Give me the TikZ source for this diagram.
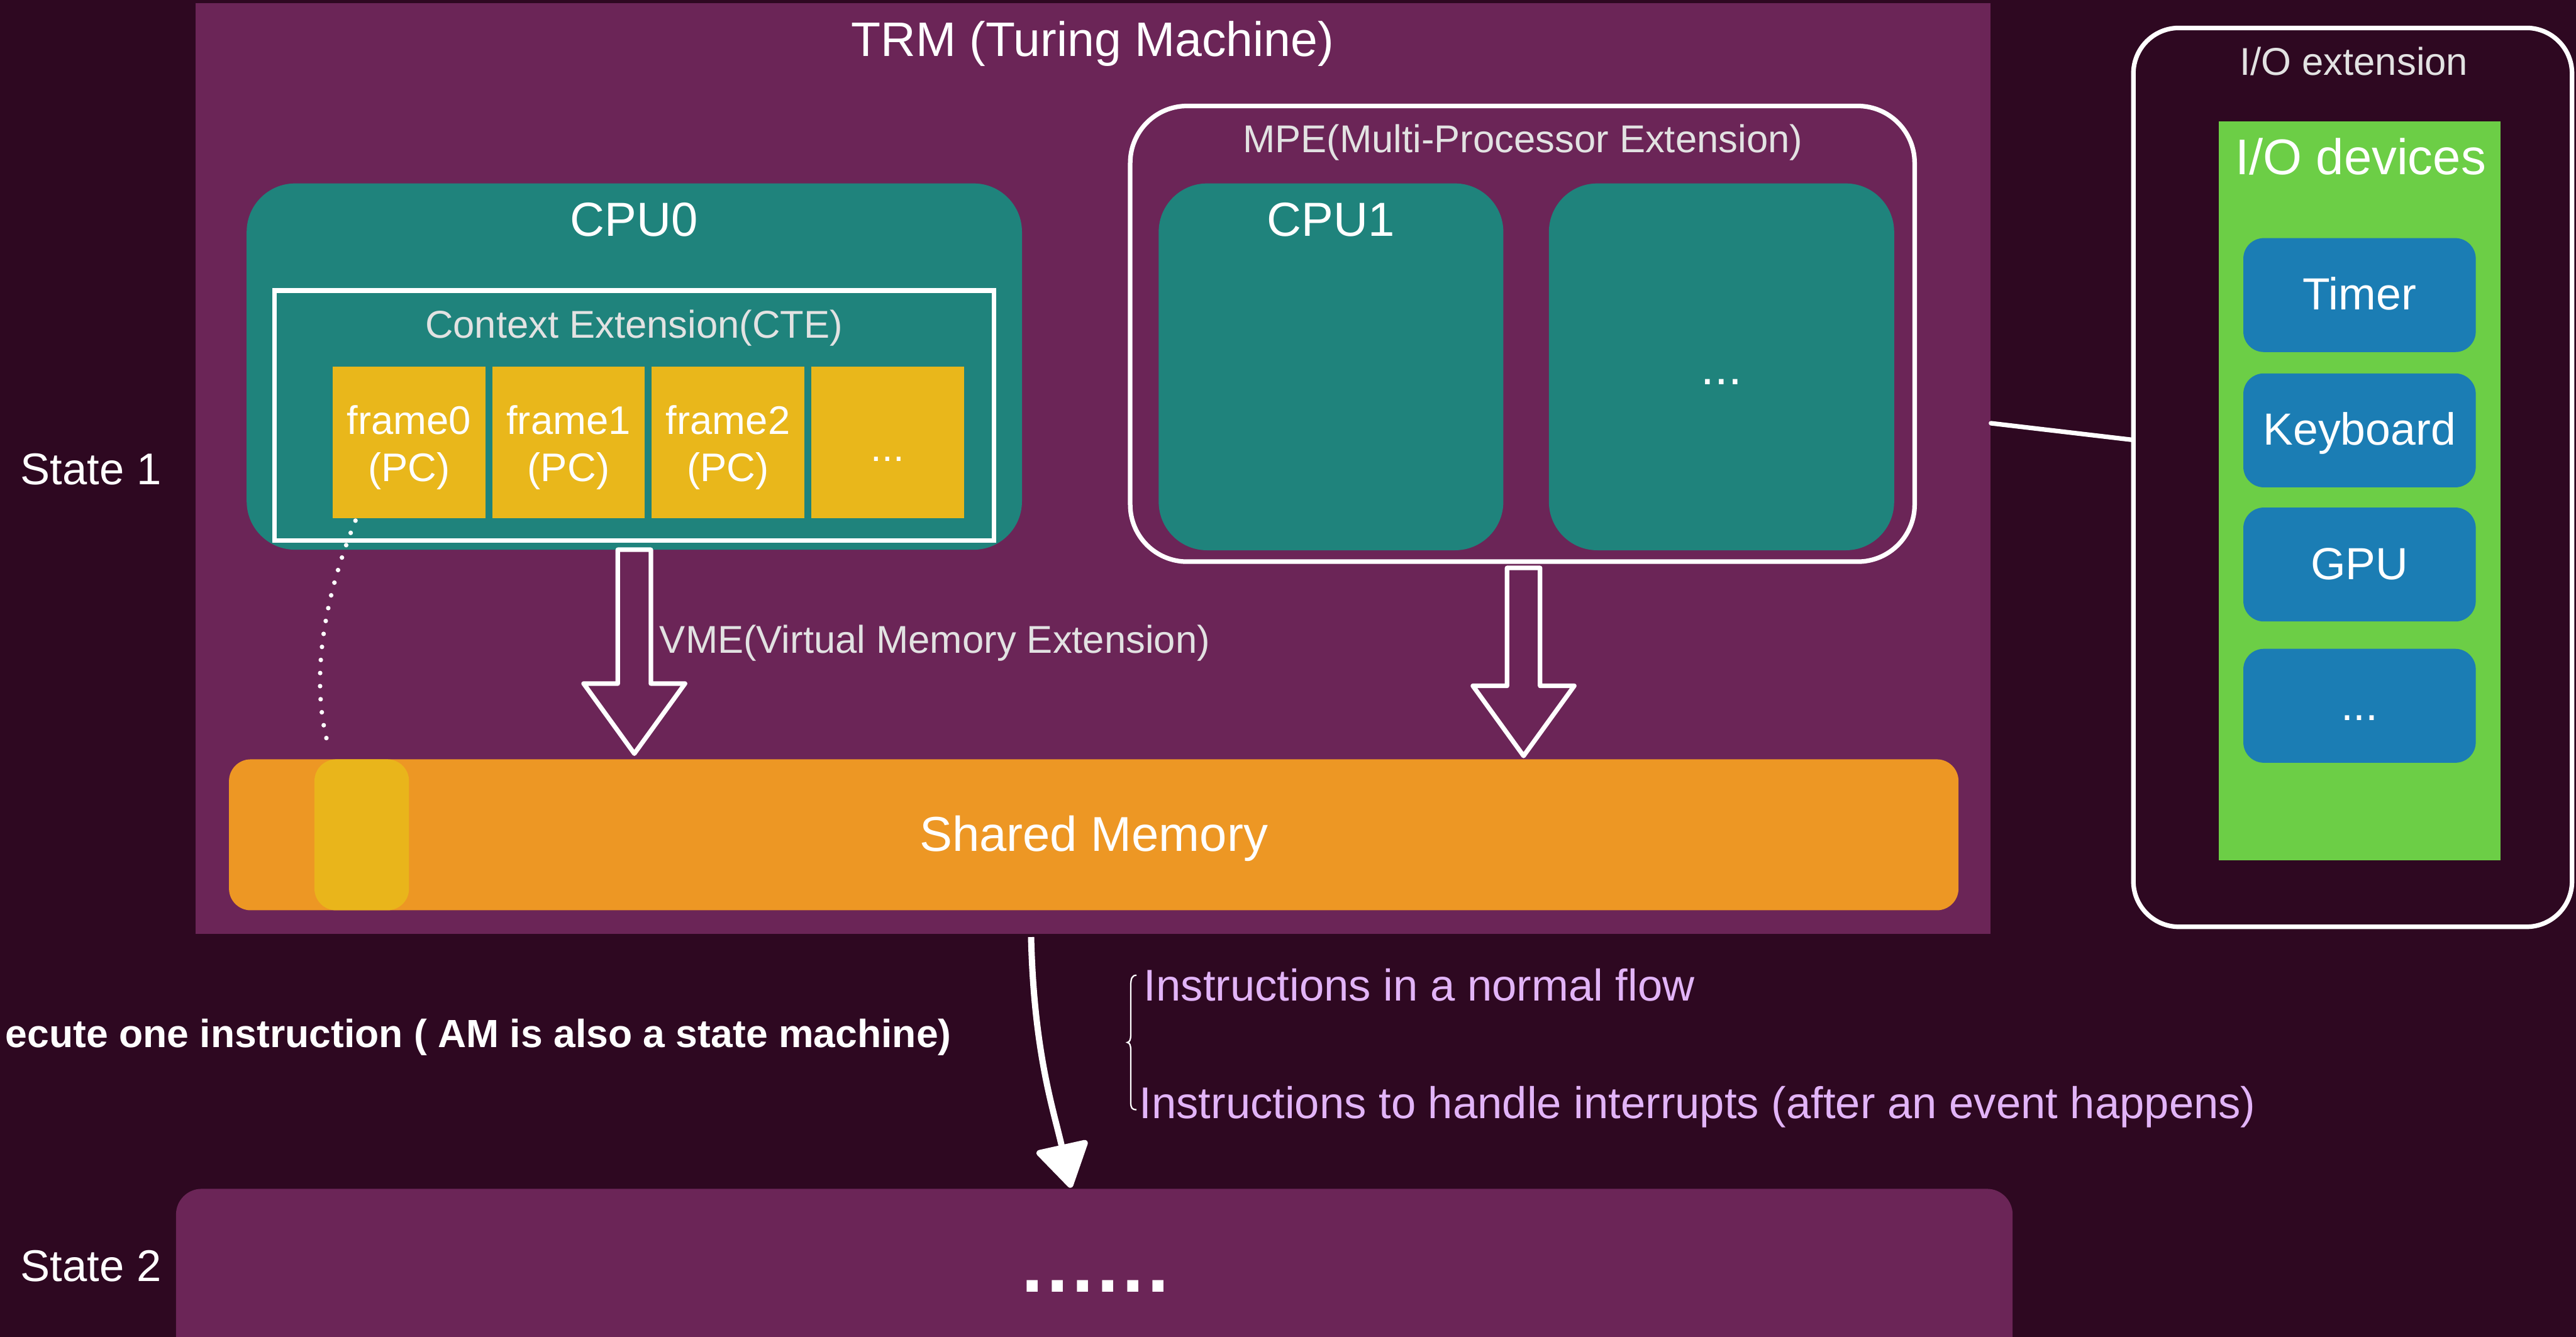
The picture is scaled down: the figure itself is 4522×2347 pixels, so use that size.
\documentclass[tikz,border=0pt]{standalone}
\usepackage{fontspec}
\setmainfont{Liberation Sans}
\usetikzlibrary{arrows.meta,calc}
\definecolor{bgc}{RGB}{46,8,33}
\definecolor{trmc}{RGB}{107,37,87}
\definecolor{tealc}{RGB}{31,131,124}
\definecolor{yelc}{RGB}{233,183,27}
\definecolor{orac}{RGB}{237,151,36}
\definecolor{grnc}{RGB}{108,206,70}
\definecolor{bluc}{RGB}{27,125,180}
\definecolor{lavc}{RGB}{226,180,248}
\definecolor{greyc}{RGB}{226,226,226}
\tikzset{
  box/.style={inner sep=0pt, outer sep=0pt},
  lbl/.style={inner sep=0pt, outer sep=0pt, anchor=base, text=white},
  tealbox/.style={box, fill=tealc, rounded corners=85pt},
  frm/.style={box, fill=yelc, minimum width=268pt, minimum height=266pt, text=white, align=center,
    font=\fontsize{70}{83}\selectfont, text height=151pt, text depth=15pt},
  dev/.style={box, fill=bluc, rounded corners=36pt, minimum width=408pt, minimum height=200pt,
    text=white, font=\fontsize{79}{90}\selectfont, text height=52pt, text depth=0pt},
  wline/.style={draw=white, line width=8pt, line cap=round, line join=round},
  bigfont/.style={font=\fontsize{84}{100}\selectfont},
  midfont/.style={font=\fontsize{68}{80}\selectfont},
}
\newcommand{\hollowarrow}[2]{%
  \draw[wline] let \p1=(#1), \p2=(#2) in
    (\x1-29pt,\y1) -- (\x1-29pt,\y2+123pt) -- (\x1-89pt,\y2+123pt) -- (\x1,\y2)
    -- (\x1+89pt,\y2+123pt) -- (\x1+29pt,\y2+123pt) -- (\x1+29pt,\y1) -- cycle;}
\begin{document}
\begin{tikzpicture}[x=1pt,y=-1pt]
\useasboundingbox (0,0) rectangle (4522,2347);
\clip (0,0) rectangle (4522,2347);
\fill[bgc] (0,0) rectangle (4522,2347);

% TRM
\node[box, fill=trmc, minimum width=3151pt, minimum height=1633pt] (trm) at (1918.5,822.5) {};
\node[lbl, font=\fontsize{85}{100}\selectfont] (trml) at (1918,99) {TRM (Turing Machine)};

% CPU0 and CTE
\node[tealbox, minimum width=1361pt, minimum height=643pt] (cpu0) at (1113.5,643.5) {};
\node[lbl, bigfont] (cpu0l) at (1113,415) {CPU0};
\node[box, draw=white, line width=8pt, minimum width=1263pt, minimum height=439pt] (cte) at (1113.5,729.5) {};
\node[lbl, midfont, text=greyc] (ctel) at (1113,593) {Context Extension(CTE)};
\node[frm] (f0) at (718,777) {frame0\\(PC)};
\node[frm] (f1) at (998,777) {frame1\\(PC)};
\node[frm] (f2) at (1278,777) {frame2\\(PC)};
\node[frm, text height=66pt, text depth=0pt] (f3) at (1558,777) {...};

% MPE
\node[box, draw=white, line width=8pt, rounded corners=100pt, minimum width=1377pt, minimum height=800pt] (mpe) at (2672.5,586) {};
\node[lbl, midfont, text=greyc] (mpel) at (2673,268) {MPE(Multi-Processor Extension)};
\node[tealbox, minimum width=605pt, minimum height=644pt] (cpu1) at (2336.5,644) {};
\node[lbl, bigfont] (cpu1l) at (2336,415) {CPU1};
\node[tealbox, minimum width=606pt, minimum height=644pt, text=white, font=\fontsize{86}{100}\selectfont,
  text height=62pt, text depth=0pt] (cpu2) at (3022,644) {...};

% Shared memory
\node[box, fill=orac, rounded corners=38pt, minimum width=3036pt, minimum height=265pt,
  text=white, font=\fontsize{86}{100}\selectfont, text height=58pt, text depth=0pt] (mem) at (1920,1465.5) {Shared Memory};
\node[box, fill=yelc, fill opacity=0.95, rounded corners=38pt, minimum width=166pt, minimum height=265pt] (yel) at (635,1465.5) {};

% VME arrows
\coordinate (v1) at (cpu0.south);
\coordinate (v2) at ($(cpu0.south |- mem.north)+(0,-10)$);
\hollowarrow{v1}{v2}
\node[lbl, anchor=base west, midfont, text=greyc] (vmel) at (1158,1147) {VME(Virtual Memory Extension)};
\coordinate (m1) at ($(mpe.south)+(2,11)$);
\coordinate (m2) at ($(m1 |- mem.north)+(0,-6)$);
\hollowarrow{m1}{m2}

% dotted link frame0 -> memory
\coordinate (d1) at ($(f0.south west)+(40,4)$);
\coordinate (d2) at ($(yel.north)+(-58,-22)$);
\draw[white, line width=8pt, line cap=round, dash pattern=on 0pt off 23pt]
  (d1) .. controls (565,1060) and (545,1200) .. (d2);

% I/O extension
\node[box, draw=white, line width=8pt, rounded corners=80pt, minimum width=770pt, minimum height=1578pt] (io) at (4130,838) {};
\node[lbl, midfont, text=greyc] (iol) at (4132,132) {I/O extension};
\node[box, fill=grnc, minimum width=495pt, minimum height=1297pt] (grn) at (4142.5,861.5) {};
\node[lbl, font=\fontsize{88}{100}\selectfont] (grnl) at (4144,306) {I/O devices};
\node[dev] (timer) at (4142,518) {Timer};
\node[dev] (kbd) at (4142,755.5) {Keyboard};
\node[dev] (gpu) at (4142,991) {GPU};
\node[dev] (devx) at (4142,1239) {...};
\coordinate (k1) at ($(trm.north east)+(1,737)$);
\coordinate (k2) at ($(io.north west)+(-3,723)$);
\draw[wline] (k1) -- (k2);

% State labels
\node[lbl, anchor=base west, font=\fontsize{78}{90}\selectfont] (s1) at (36,851) {State 1};
\node[lbl, anchor=base west, font=\fontsize{78}{90}\selectfont] (s2) at (36,2249) {State 2};

% transition
\node[lbl, anchor=base east, font=\fontsize{69}{80}\selectfont\bfseries] (exe) at (1670,1839) {ecute one instruction ( AM is also a state machine)};
\node[box, fill=trmc, rounded corners=45pt, minimum width=3224pt, minimum height=413pt] (st2) at (1921,2293.5) {};
\node[lbl, font=\fontsize{137}{140}\selectfont\bfseries] (dots) at (1923,2268) {.\kern6pt.\kern6pt.\kern6pt.\kern6pt.\kern6pt.};
\coordinate (e1) at (1810,1645);
\coordinate (e2) at ($(st2.north west)+(1571,-2)$);
\draw[white, line width=11pt, -{Triangle[length=82pt,width=98pt,round]}]
  (e1) .. controls (1815,1850) and (1850,1950) .. (e2);

% brace and annotations
\draw[white, line width=2.5pt]
  (1995,1712) .. controls (1987,1712) and (1985,1718) .. (1985,1730) -- (1985,1815)
  .. controls (1985,1826) and (1983,1829) .. (1979,1830)
  .. controls (1983,1831) and (1985,1834) .. (1985,1845) -- (1985,1935)
  .. controls (1985,1945) and (1987,1948) .. (1995,1948);
\node[lbl, anchor=base west, text=lavc, font=\fontsize{78}{90}\selectfont] (n1) at (2008,1757) {Instructions in a normal flow};
\node[lbl, anchor=base west, text=lavc, font=\fontsize{78}{90}\selectfont] (n2) at (2000,1963) {Instructions to handle interrupts (after an event happens)};
\end{tikzpicture}
\end{document}
